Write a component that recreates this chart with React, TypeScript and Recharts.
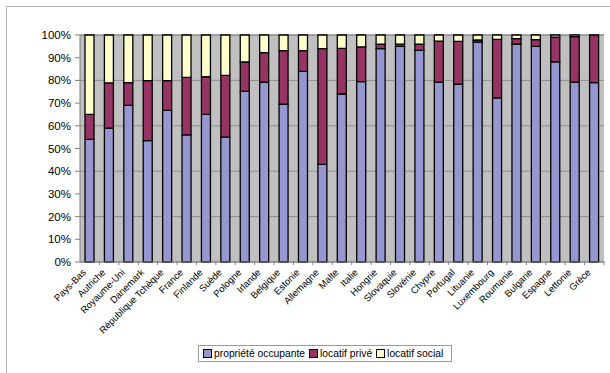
import React from "react";
import { BarChart, Bar, XAxis, YAxis, CartesianGrid, Legend } from "recharts";

// share of households by tenure, in %
const countries = [
  "Pays-Bas", "Autriche", "Royaume-Uni", "Danemark", "République Tchèque", "France",
  "Finlande", "Suède", "Pologne", "Irlande", "Belgique", "Estonie", "Allemagne",
  "Malte", "Italie", "Hongrie", "Slovaquie", "Slovénie", "Chypre", "Portugal",
  "Lituanie", "Luxembourg", "Roumanie", "Bulgarie", "Espagne", "Lettonie", "Grèce",
];
const proprieteOccupante = [
  54, 59, 69, 53.5, 66.8, 56, 65, 55, 75.2, 79.2, 69.5, 84, 43,
  74, 79.5, 94, 95, 93.2, 79.2, 78.3, 96.9, 72.3, 96, 95, 88.2, 79.2, 79,
];
const locatifPrive = [
  11, 19.9, 10, 26.4, 13.1, 25.3, 16.6, 27.2, 12.9, 13, 23.6, 9.1, 51,
  20.1, 15.3, 2, 1, 2.8, 18.1, 18.9, 0.9, 25.8, 2.4, 3, 10.9, 20.1, 21,
];
const locatifSocial = [
  35, 21.1, 21, 20.1, 20.1, 18.7, 18.4, 17.8, 11.9, 7.8, 6.9, 6.9, 6,
  5.9, 5.2, 4, 4, 4, 2.7, 2.8, 2.2, 1.9, 1.6, 2, 0.9, 0.7, 0,
];
const yTicks = [0, 10, 20, 30, 40, 50, 60, 70, 80, 90, 100];

const series = [
  { key: "occ", name: "propriété occupante", color: "#9696d0", values: proprieteOccupante },
  { key: "prive", name: "locatif privé", color: "#963563", values: locatifPrive },
  { key: "social", name: "locatif social", color: "#ffffcc", values: locatifSocial },
];

const data = countries.map((c, i) => {
  const row: any = { country: c };
  series.forEach((s) => (row[s.key] = s.values[i]));
  return row;
});

const FONT = "'Liberation Sans', Arial, sans-serif";
const STEP = 524 / countries.length;

const CountryTick = (props: any) => {
  const { x, y, payload } = props;
  return (
    <g>
      <line x1={x + STEP / 2} y1={261} x2={x + STEP / 2} y2={265} stroke="#808080" />
      <text
        x={x - 3}
        y={y + 3}
        textAnchor="end"
        fontSize={9.5}
        fontFamily={FONT}
        fill="#000"
        transform={`rotate(-45, ${x - 3}, ${y + 3})`}
      >
        {payload.value}
      </text>
    </g>
  );
};

const LegendBox = () => (
  <div
    style={{
      display: "inline-flex",
      alignItems: "center",
      border: "1px solid #9a9a9a",
      padding: "2px 4px",
      fontFamily: FONT,
      fontSize: 10.3,
      color: "#000",
      background: "#fff",
      whiteSpace: "nowrap",
    }}
  >
    {series.map((s) => (
      <span key={s.key} style={{ display: "inline-flex", alignItems: "center", marginRight: 4 }}>
        <span
          style={{
            display: "inline-block",
            width: 7,
            height: 7,
            background: s.color,
            border: "1px solid #000",
            marginRight: 2,
          }}
        />
        {s.name}
      </span>
    ))}
  </div>
);

export default function App() {
  return (
    <div style={{ position: "absolute", left: 0, top: 0, width: 610, height: 373, background: "#fff", overflow: "hidden" }}>
      <div
        style={{
          position: "absolute",
          left: 6,
          top: 6,
          width: 640,
          height: 400,
          border: "1px solid #b4b4b4",
        }}
      />
      <BarChart
        width={610}
        height={373}
        data={data}
        margin={{ top: 35, right: 6, left: 0, bottom: 11 }}
        barCategoryGap={0}
        style={{ position: "absolute", left: 0, top: 0 }}
      >
        <CartesianGrid vertical={false} stroke="#8c8c8c" fill="#c0c0c0" />
        <XAxis
          dataKey="country"
          interval={0}
          height={82}
          tickLine={false}
          axisLine={{ stroke: "#808080" }}
          tick={<CountryTick />}
        />
        <YAxis
          type="number"
          domain={[0, 100]}
          ticks={yTicks}
          width={80}
          tickSize={5}
          tickMargin={4}
          axisLine={{ stroke: "#808080" }}
          tickLine={{ stroke: "#808080" }}
          tickFormatter={(v: number) => `${v}%`}
          tick={{ fontSize: 11.5, fontFamily: FONT, fill: "#000" }}
        />
        <Legend
          verticalAlign="bottom"
          align="left"
          content={<LegendBox />}
          wrapperStyle={{ left: 198, width: 260 }}
        />
        {series.map((s) => (
          <Bar
            key={s.key}
            dataKey={s.key}
            name={s.name}
            stackId="a"
            fill={s.color}
            stroke="#000"
            strokeWidth={1.3}
            barSize={9}
            isAnimationActive={false}
          />
        ))}
      </BarChart>
    </div>
  );
}
